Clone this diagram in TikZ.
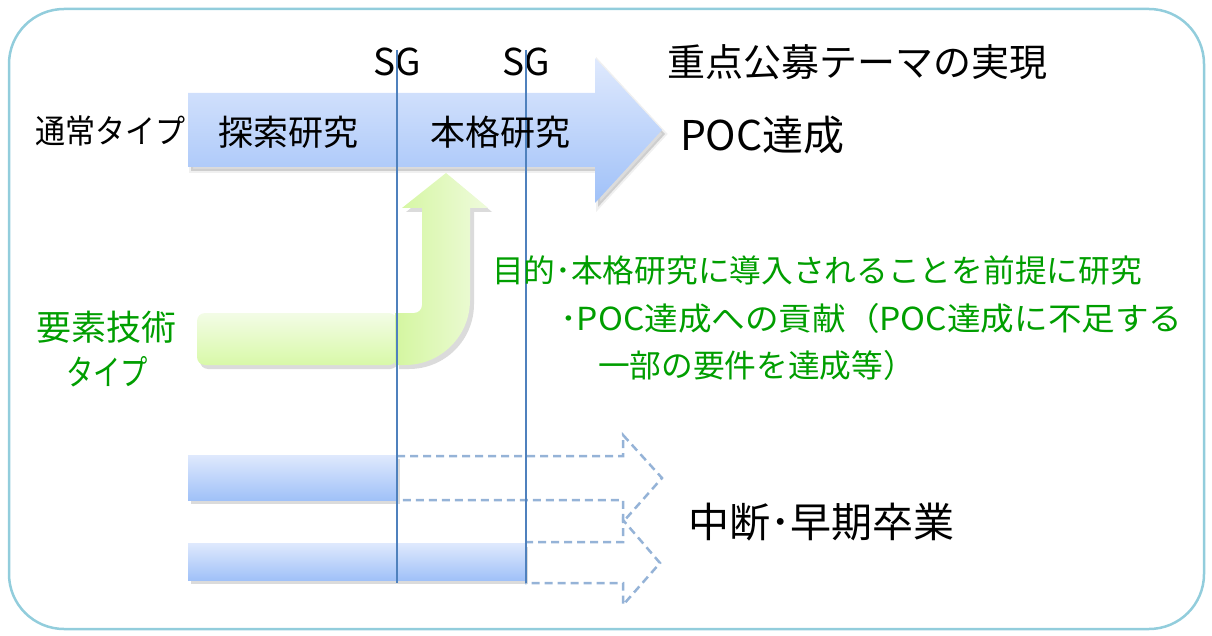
\documentclass[tikz,border=0pt]{standalone}
\usepackage{fontspec}
\setmainfont{Noto Sans CJK JP}
\usetikzlibrary{calc}
\definecolor{frameblue}{RGB}{146,205,220}
\definecolor{sgline}{RGB}{79,129,189}
\definecolor{dashblue}{RGB}{149,179,215}
\definecolor{txtgreen}{RGB}{0,158,0}
\definecolor{bluetop}{RGB}{223,233,253}
\definecolor{bluebot}{RGB}{160,193,248}
\definecolor{greenA}{RGB}{212,246,160}
\definecolor{greenB}{RGB}{239,251,220}
\definecolor{greenC}{RGB}{243,252,230}
\definecolor{greenD}{RGB}{216,249,168}
\tikzset{
  lbl/.style={inner sep=0pt, outer sep=0pt, font=\fontsize{#1}{#1}\selectfont},
  gtxt/.style={lbl=#1, text=txtgreen},
  sgstyle/.style={draw=sgline, line width=2pt},
  dasharrow/.style={draw=dashblue, line width=2.5pt, dash pattern=on 8pt off 5pt},
  shade1/.style={fill=black, opacity=0.14},
  shade2/.style={draw=black, opacity=0.06, line width=4pt},
  bluefill/.style={top color=bluetop, bottom color=bluebot},
}
\begin{document}
\begin{tikzpicture}[x=1pt,y=-1pt]
\useasboundingbox (0,0) rectangle (1212,636);
% frame
\draw[frameblue, line width=2.5pt, rounded corners=55pt] (9,9) rectangle (1204,629);

% main arrow shadow
\path[shade1] (191,97) -- (598,97) -- (598,62) -- (665,134) -- (598,207) -- (598,171) -- (191,171) -- cycle;
\path[shade2] (191,97) -- (598,97) -- (598,62) -- (665,134) -- (598,207) -- (598,171) -- (191,171) -- cycle;
% main arrow
\shade[bluefill] (188,93) -- (595,93) -- (595,58) -- (662,130) -- (595,203) -- (595,167) -- (188,167) -- cycle;

% green horizontal rounded bar
\path[shade1, rounded corners=8pt] (200,317) rectangle (398,369);
\shade[top color=greenC, bottom color=greenD, rounded corners=8pt] (197,313) rectangle (397,365);
% green bent arrow
\path[shade1] (399,317) -- (418,317) -- (426,309) -- (426,212) -- (406,212) -- (450,177) -- (492,212) -- (474,212) -- (474,304)
  .. controls (474,340) and (445,369) .. (409,369) -- (399,369) -- cycle;
\shade[left color=greenA, right color=greenB] (395,313) -- (414,313)
  .. controls (418.4,313) and (422,309.4) .. (422,305) -- (422,208) -- (402,208) -- (446,173) -- (488,208) -- (470,208) -- (470,300)
  .. controls (470,336) and (441,365) .. (405,365) -- (395,365) -- cycle;

% bottom bars
\path[shade1] (191,459) rectangle (400,504);
\shade[bluefill] (188,455) rectangle (397,500);
\path[shade1] (191,547) rectangle (528,584);
\shade[bluefill] (188,543) rectangle (525,580);

% dashed arrows
\draw[dasharrow] (397,456) -- (623,456) -- (623,435) -- (662,478) -- (623,522) -- (623,500) -- (397,500);
\draw[dasharrow] (525,542) -- (623,542) -- (623,520) -- (660,563) -- (623,605) -- (623,583) -- (525,583);

% texts
\node[lbl=37] (sg1) at (397,62) {SG};
\node[lbl=37] (sg2) at (526,62) {SG};
\coordinate (sg1b) at (397,583);
\coordinate (sg2b) at (526,583);
\draw[sgstyle] (sg1.north) ++(0,2) -- (sg1b);
\draw[sgstyle] (sg2.north) ++(0,2) -- (sg2b);

\node[lbl=38, anchor=west] (goal) at (667,62) {重点公募テーマの実現};
\node[lbl=33, anchor=west] (normal) at (35,131) {\scalebox{0.91}[1]{通常タイプ}};
\node[lbl=35, anchor=west] (explore) at (218,132) {探索研究};
\node[lbl=35, anchor=west] (full) at (430,132) {本格研究};
\node[lbl=41, anchor=west] (poc) at (680,135) {POC達成};

\node[gtxt=35] (elem1) at (106,327) {要素技術};
\node[gtxt=35] (elem2) at (107,372) {\scalebox{0.78}[1]{タイプ}};

\node[gtxt=31.7, anchor=west] (g1) at (492,270) {目的･本格研究に導入されることを前提に研究};
\node[gtxt=31.7, anchor=west] (g2) at (560,318) {\scalebox{1.06}[1]{･POC達成への貢献（POC達成に不足する}};
\node[gtxt=31.7, anchor=west] (g3) at (598,365) {一部の要件を達成等）};

\node[lbl=41, anchor=west] (stop) at (688,522) {中断･早期卒業};
\end{tikzpicture}
\end{document}
